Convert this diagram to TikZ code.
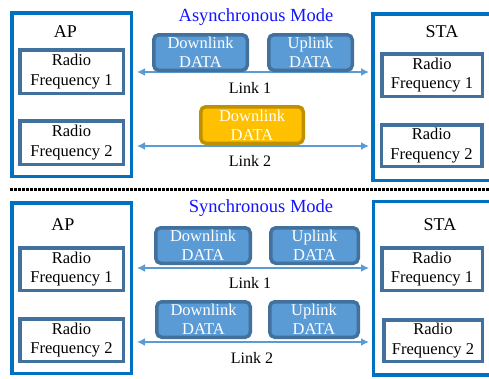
\documentclass[tikz,border=0pt]{standalone}
\usepackage{fontspec}
\setmainfont{Liberation Serif}
\usetikzlibrary{arrows.meta}
\definecolor{outerblue}{RGB}{0,112,192}
\definecolor{rfborder}{RGB}{65,113,156}
\definecolor{datafill}{RGB}{91,155,213}
\definecolor{yelfill}{RGB}{255,192,0}
\definecolor{yelborder}{RGB}{191,144,0}
\definecolor{titleblue}{RGB}{20,20,255}
\tikzset{
  outerbox/.style={draw=outerblue, line width=3.5pt, fill=white, rectangle, inner sep=0pt},
  rfbox/.style={draw=rfborder, line width=3.5pt, fill=white, rectangle, align=center, inner sep=0pt,
    font=\fontsize{16.5}{19.5}\selectfont},
  databox/.style={draw=rfborder, line width=3.5pt, fill=datafill, rounded corners=5pt, align=center,
    inner sep=0pt, text=white, minimum height=35.5pt, font=\fontsize{16.5}{19}\selectfont},
  yelbox/.style={databox, draw=yelborder, fill=yelfill},
  linkarrow/.style={draw=datafill, line width=2.2pt, {Latex[length=8pt,width=8pt]}-{Latex[length=8pt,width=8pt]}},
  lbl/.style={font=\fontsize{16}{19}\selectfont, inner sep=0pt},
  devlbl/.style={font=\fontsize{18}{21}\selectfont, inner sep=0pt},
  title/.style={font=\fontsize{18.5}{22}\selectfont, text=titleblue, inner sep=0pt},
}
\begin{document}
\begin{tikzpicture}[x=1pt,y=-1pt]
\useasboundingbox (0,0) rectangle (489,378);
\clip (0,0) rectangle (489,378);
% ---------- top: asynchronous ----------
\node[outerbox, minimum width=119.5pt, minimum height=163.5pt] (apA) at (71.5,94.5) {};
\node[outerbox, minimum width=120.5pt, minimum height=166.5pt] (staA) at (433,97) {};
\node[devlbl] (apAl) at (65.5,32) {AP};
\node[devlbl] (staAl) at (442,32) {STA};
\node[rfbox, minimum width=103.5pt, minimum height=43.5pt] (apArf1) at (71.5,71.5) {Radio\\Frequency 1};
\node[rfbox, minimum width=103.5pt, minimum height=43.5pt] (apArf2) at (71.5,142.5) {Radio\\Frequency 2};
\node[rfbox, minimum width=100.5pt, minimum height=42.5pt] (staArf1) at (432,75) {Radio\\Frequency 1};
\node[rfbox, minimum width=100.5pt, minimum height=41.5pt] (staArf2) at (431.5,145.5) {Radio\\Frequency 2};
\node[title] (titA) at (256,17) {Asynchronous Mode};
\coordinate (a1l) at (137,72);
\coordinate (a1r) at (369,72);
\coordinate (a2l) at (137,146);
\coordinate (a2r) at (369,146);
\draw[linkarrow] (a1l) -- (a1r);
\draw[linkarrow] (a2l) -- (a2r);
\node[databox, minimum width=93.5pt] (dlA) at (200.5,52.5) {Downlink\\DATA};
\node[databox, minimum width=83.5pt] (ulA) at (310.5,52.5) {Uplink\\DATA};
\node[yelbox, minimum width=102.5pt, minimum height=36.5pt] (dlA2) at (252,125) {Downlink\\DATA};
\node[lbl] (lkA1) at (250,88) {Link 1};
\node[lbl] (lkA2) at (250,161) {Link 2};
% ---------- separator ----------
\coordinate (sepl) at (10,189);
\coordinate (sepr) at (489,189);
\draw[line width=3pt, dash pattern=on 2.5pt off 1.5pt] (sepl) -- (sepr);
% ---------- bottom: synchronous ----------
\node[outerbox, minimum width=119.5pt, minimum height=170.5pt] (apB) at (71.5,288) {};
\node[outerbox, minimum width=119.5pt, minimum height=173.5pt] (staB) at (433,288) {};
\node[devlbl] (apBl) at (63,225) {AP};
\node[devlbl] (staBl) at (440,225) {STA};
\node[rfbox, minimum width=103.5pt, minimum height=42.5pt] (apBrf1) at (71.5,269) {Radio\\Frequency 1};
\node[rfbox, minimum width=103.5pt, minimum height=42.5pt] (apBrf2) at (71.5,340) {Radio\\Frequency 2};
\node[rfbox, minimum width=100.5pt, minimum height=42.5pt] (staBrf1) at (432,269) {Radio\\Frequency 1};
\node[rfbox, minimum width=98.5pt, minimum height=41.5pt] (staBrf2) at (433,340.5) {Radio\\Frequency 2};
\node[title] (titB) at (261,208) {Synchronous Mode};
\coordinate (b1l) at (137,268);
\coordinate (b1r) at (369,268);
\coordinate (b2l) at (137,342);
\coordinate (b2r) at (369,342);
\draw[linkarrow] (b1l) -- (b1r);
\draw[linkarrow] (b2l) -- (b2r);
\node[databox, minimum width=94.5pt] (dlB1) at (203,245.5) {Downlink\\DATA};
\node[databox, minimum width=87.5pt] (ulB1) at (314.5,245.5) {Uplink\\DATA};
\node[databox, minimum width=93.5pt] (dlB2) at (203.5,319.5) {Downlink\\DATA};
\node[databox, minimum width=88.5pt] (ulB2) at (314,319.5) {Uplink\\DATA};
\node[lbl] (lkB1) at (250,283) {Link 1};
\node[lbl] (lkB2) at (252,358) {Link 2};
\end{tikzpicture}
\end{document}
